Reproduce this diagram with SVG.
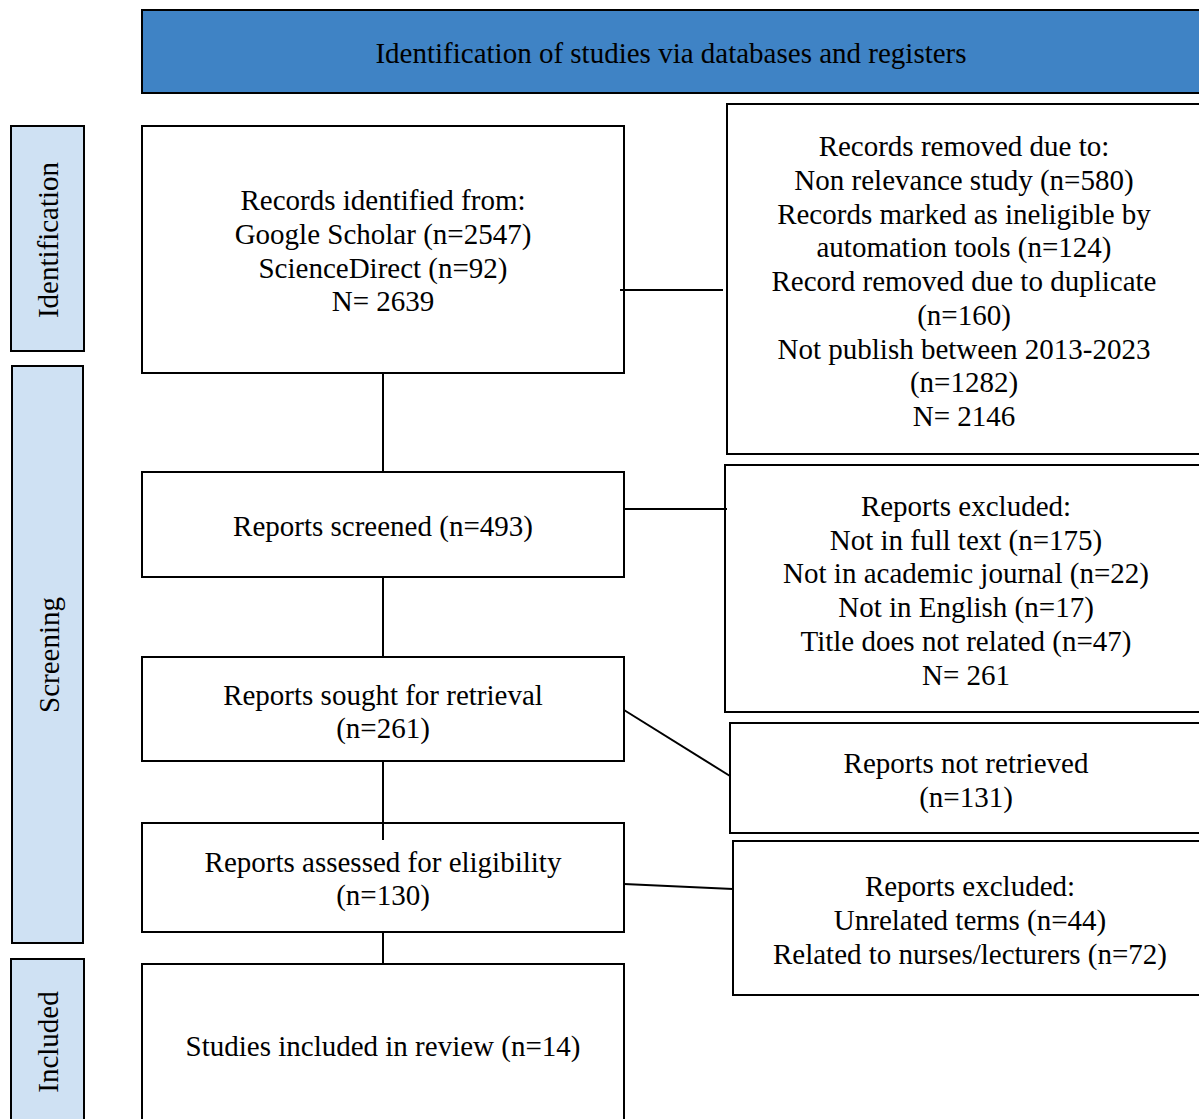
<svg xmlns="http://www.w3.org/2000/svg" width="1199" height="1119" viewBox="0 0 1199 1119">
<style>
.box{fill:#ffffff;stroke:#000;stroke-width:2}
.side{fill:#cfe1f3;stroke:#000;stroke-width:2}
.hdr{fill:#3f83c5;stroke:#000;stroke-width:2}
text{font-family:"Liberation Serif","Times New Roman",serif;font-size:29px;fill:#000;text-anchor:middle}
.conn line{stroke:#000;stroke-width:2}
</style>
<rect width="1199" height="1119" fill="#fff"/>
<g id="header"><rect class="hdr" x="142" y="10" width="1070" height="83"/><text x="671" y="63">Identification of studies via databases and registers</text></g>
<g id="side-identification"><rect class="side" x="11" y="126" width="73" height="225"/><text transform="translate(58,240) rotate(-90)">Identification</text></g>
<g id="side-screening"><rect class="side" x="12" y="366" width="71" height="577"/><text transform="translate(59,655) rotate(-90)">Screening</text></g>
<g id="side-included"><rect class="side" x="11" y="959" width="73" height="180"/><text transform="translate(58,1042) rotate(-90)">Included</text></g>
<g id="records-identified"><rect class="box" x="142" y="126" width="482" height="247"/>
<text x="383" y="210">Records identified from:</text>
<text x="383" y="244">Google Scholar (n=2547)</text>
<text x="383" y="278">ScienceDirect (n=92)</text>
<text x="383" y="311">N= 2639</text></g>
<g id="records-removed"><rect class="box" x="727" y="104" width="490" height="350"/>
<text x="964" y="156">Records removed due to:</text>
<text x="964" y="190">Non relevance study (n=580)</text>
<text x="964" y="224">Records marked as ineligible by</text>
<text x="964" y="257">automation tools (n=124)</text>
<text x="964" y="291">Record removed due to duplicate</text>
<text x="964" y="325">(n=160)</text>
<text x="964" y="359">Not publish between 2013-2023</text>
<text x="964" y="392">(n=1282)</text>
<text x="964" y="426">N= 2146</text></g>
<g id="reports-screened"><rect class="box" x="142" y="472" width="482" height="105"/><text x="383" y="536">Reports screened (n=493)</text></g>
<g id="reports-excluded-1"><rect class="box" x="725" y="465" width="490" height="247"/>
<text x="966" y="516">Reports excluded:</text>
<text x="966" y="550">Not in full text (n=175)</text>
<text x="966" y="583">Not in academic journal (n=22)</text>
<text x="966" y="617">Not in English (n=17)</text>
<text x="966" y="651">Title does not related (n=47)</text>
<text x="966" y="685">N= 261</text></g>
<g id="reports-sought"><rect class="box" x="142" y="657" width="482" height="104"/>
<text x="383" y="705">Reports sought for retrieval</text>
<text x="383" y="738">(n=261)</text></g>
<g id="reports-not-retrieved"><rect class="box" x="730" y="723" width="485" height="110"/>
<text x="966" y="773">Reports not retrieved</text>
<text x="966" y="807">(n=131)</text></g>
<g id="reports-assessed"><rect class="box" x="142" y="823" width="482" height="109"/>
<text x="383" y="872">Reports assessed for eligibility</text>
<text x="383" y="905">(n=130)</text></g>
<g id="reports-excluded-2"><rect class="box" x="733" y="841" width="480" height="154"/>
<text x="970" y="896">Reports excluded:</text>
<text x="970" y="930">Unrelated terms (n=44)</text>
<text x="970" y="964">Related to nurses/lecturers (n=72)</text></g>
<g id="studies-included"><rect class="box" x="142" y="964" width="482" height="180"/><text x="383" y="1056">Studies included in review (n=14)</text></g>
<g class="conn" id="connectors">
<line x1="620" y1="290" x2="723" y2="290"/>
<line x1="383" y1="373" x2="383" y2="472"/>
<line x1="624" y1="509" x2="727" y2="509"/>
<line x1="383" y1="577" x2="383" y2="657"/>
<line x1="624" y1="710" x2="730" y2="776"/>
<line x1="383" y1="761" x2="383" y2="840"/>
<line x1="624" y1="884" x2="733" y2="889"/>
<line x1="383" y1="932" x2="383" y2="964"/>
</g>
</svg>
